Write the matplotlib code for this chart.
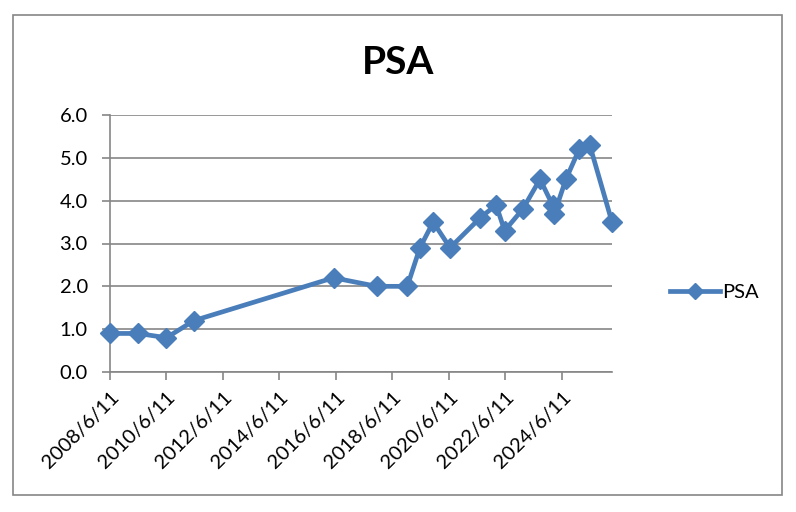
import matplotlib
matplotlib.use("Agg")
import matplotlib.pyplot as plt
import matplotlib.dates as mdates
from matplotlib.patches import Rectangle
import datetime as dt

plt.rcParams['font.family'] = ['Lato', 'DejaVu Sans']

# Data
dates = ["2008-06-11", "2009-06-10", "2010-06-11", "2011-06-01", "2016-05-10",
         "2017-11-20", "2018-12-20", "2019-06-01", "2019-11-20", "2020-06-25",
         "2021-07-20", "2022-02-10", "2022-06-01", "2023-01-20", "2023-09-01",
         "2024-02-10", "2024-03-05", "2024-08-01", "2025-01-20", "2025-06-05",
         "2026-03-20"]
psa = [0.9, 0.9, 0.8, 1.2, 2.2, 2.0, 2.0, 2.9, 3.5, 2.9, 3.6, 3.9, 3.3, 3.8,
       4.5, 3.9, 3.7, 4.5, 5.2, 5.3, 3.5]
tick_dates = ["2008-06-11", "2010-06-11", "2012-06-11", "2014-06-11", "2016-06-11",
              "2018-06-11", "2020-06-11", "2022-06-11", "2024-06-11"]
tick_labels = ["2008/6/11", "2010/6/11", "2012/6/11", "2014/6/11", "2016/6/11",
               "2018/6/11", "2020/6/11", "2022/6/11", "2024/6/11"]
y_ticks = [0, 1, 2, 3, 4, 5, 6]
title = "PSA"
series_name = "PSA"

W, H = 796, 512
fig = plt.figure(figsize=(W / 100, H / 100), dpi=100)
fig.patch.set_facecolor("white")

# outer chart border
fig.patches.append(Rectangle((13 / W, 1 - 495 / H), (782 - 13) / W, (495 - 15) / H,
                             transform=fig.transFigure, fill=False,
                             edgecolor="#868686", linewidth=1.2))

ax = fig.add_axes([110 / W, 1 - 372 / H, (612 - 110) / W, (372 - 115) / H])

x = [dt.datetime.strptime(d, "%Y-%m-%d") for d in dates]
xt = [dt.datetime.strptime(d, "%Y-%m-%d") for d in tick_dates]

blue = "#4A7EBB"
ax.plot(x, psa, color=blue, linewidth=3.4, marker="D", markersize=10,
        markerfacecolor=blue, markeredgecolor=blue, label=series_name,
        solid_joinstyle="round", zorder=3, clip_on=False)

ax.set_xlim(x[0], x[-1])
ax.set_ylim(0, 6)
ax.set_yticks(y_ticks)
ax.set_yticklabels([f"{v:.1f}" for v in y_ticks], fontsize=14.5)
ax.set_xticks(xt)
ax.set_xticklabels(tick_labels, rotation=45, ha="right", rotation_mode="anchor",
                   fontsize=14.5)

ax.grid(axis="y", color="#868686", linewidth=1.2)
ax.set_axisbelow(True)
for s in ["top", "right"]:
    ax.spines[s].set_visible(False)
for s in ["left", "bottom"]:
    ax.spines[s].set_color("#868686")
    ax.spines[s].set_linewidth(1.2)
ax.tick_params(axis="both", color="#868686", width=1.2, length=6, direction="out",
               labelcolor="black")
ax.tick_params(axis="y", pad=10)
ax.tick_params(axis="x", pad=6)

fig.text(398 / W, 1 - 62 / H, title, fontsize=28, fontweight="bold",
         ha="center", va="center")

leg = fig.legend(loc="center left", bbox_to_anchor=(652 / W, 1 - 292 / H),
                 frameon=False, fontsize=14.5, handlelength=2.5, handletextpad=0.1,
                 markerscale=0.85)

fig.savefig("out.png", dpi=100)
